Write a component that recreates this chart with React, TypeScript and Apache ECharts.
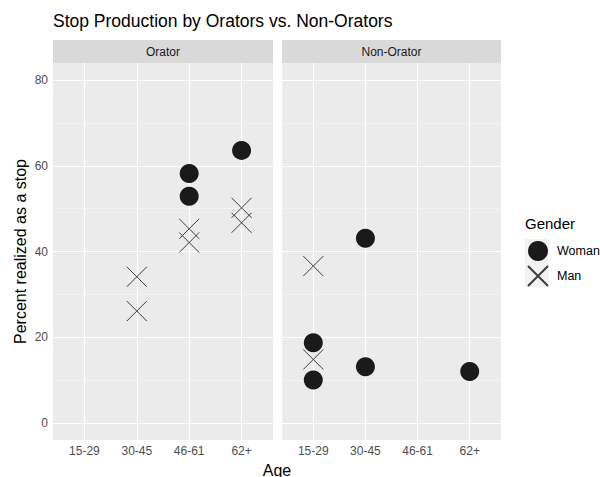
import React, { useEffect, useRef } from "react";
import * as echarts from "echarts";

const ages = ["15-29", "30-45", "46-61", "62+"];
const panels = ["Orator", "Non-Orator"];
const genders = ["Woman", "Man"];
const yTicks = [0, 20, 40, 60, 80];
const yMinor = [10, 30, 50, 70];

// [age, percent]
const oratorWoman: [string, number][] = [["46-61", 58.2], ["46-61", 52.9], ["62+", 63.6]];
const oratorMan: [string, number][] = [["30-45", 34.1], ["30-45", 26.1], ["46-61", 45.3], ["46-61", 42.1], ["62+", 50.2], ["62+", 46.7]];
const nonOratorWoman: [string, number][] = [["30-45", 43.1], ["15-29", 18.7], ["15-29", 10.0], ["30-45", 13.1], ["62+", 12.0]];
const nonOratorMan: [string, number][] = [["15-29", 36.6], ["15-29", 14.8]];

const FONT = "Liberation Sans, Arial, Helvetica, sans-serif";
const CROSS = "path://M0,0L10,10M10,0L0,10";

export default function App() {
  const ref = useRef<HTMLDivElement>(null);
  useEffect(() => {
    if (!ref.current) return;
    const chart = echarts.init(ref.current, null, { renderer: "svg" });
    const toPts = (arr: [string, number][]) => arr.map(([a, v]) => [ages.indexOf(a), v]);
    const gridDefs = [
      { left: 53, top: 63, width: 220, height: 377 },
      { left: 282, top: 63, width: 219, height: 377 },
    ];
    const gridLines = {
      silent: true,
      symbol: "none",
      z: 1,
      label: { show: false },
      emphasis: { disabled: true },
      data: [
        ...yMinor.map((v) => ({ yAxis: v, lineStyle: { color: "#f7f7f7", width: 0.6, type: "solid" } })),
        ...yTicks.map((v) => ({ yAxis: v, lineStyle: { color: "#ffffff", width: 1.2, type: "solid" } })),
        ...ages.map((_, i) => ({ xAxis: i, lineStyle: { color: "#ffffff", width: 1.2, type: "solid" } })),
      ],
    };
    const womanStyle = { color: "#1a1a1a", opacity: 1 };
    const manStyle = { color: "transparent", borderColor: "#3d3d3d", borderWidth: 1, opacity: 1 };
    const mkSeries = (name: string, idx: number, data: [string, number][], withLines: boolean) => ({
      name,
      type: "scatter",
      xAxisIndex: idx,
      yAxisIndex: idx,
      z: 3,
      symbol: name === "Woman" ? "circle" : CROSS,
      symbolSize: name === "Woman" ? 19 : 20,
      itemStyle: name === "Woman" ? womanStyle : manStyle,
      data: toPts(data),
      markLine: withLines ? gridLines : undefined,
    });
    const xAxisDef = (idx: number) => ({
      type: "value",
      gridIndex: idx,
      min: -0.6,
      max: 3.6,
      axisLine: { show: false },
      axisTick: { show: true, customValues: [0, 1, 2, 3], length: 3, lineStyle: { color: "#333333", width: 1 } },
      axisLabel: {
        customValues: [0, 1, 2, 3],
        formatter: (v: number) => ages[Math.round(v)] ?? "",
        color: "#4d4d4d",
        fontSize: 12,
        fontFamily: FONT,
        margin: 5,
      },
      splitLine: { show: false },
    });
    const yAxisDef = (idx: number) => ({
      type: "value",
      gridIndex: idx,
      min: -4,
      max: 84,
      axisLine: { show: false },
      axisTick: { show: idx === 0, customValues: yTicks, length: 3, lineStyle: { color: "#333333", width: 1 } },
      axisLabel: {
        show: idx === 0,
        customValues: yTicks,
        color: "#4d4d4d",
        fontSize: 12,
        fontFamily: FONT,
        margin: 5,
      },
      splitLine: { show: false },
      name: idx === 0 ? "Percent realized as a stop" : "",
      nameLocation: "middle",
      nameGap: 25,
      nameTextStyle: { color: "#000000", fontSize: 16, fontFamily: FONT },
    });
    const stripGraphics = panels.flatMap((p, i) => {
      const g = gridDefs[i];
      return [
        { type: "rect", left: g.left, top: 40, shape: { width: g.width, height: 23 }, style: { fill: "#d9d9d9" }, z: -1 },
        {
          type: "text",
          x: g.left + g.width / 2,
          y: 52,
          style: { text: p, fill: "#1a1a1a", fontSize: 12, fontFamily: FONT, align: "center", verticalAlign: "middle" },
        },
      ];
    });
    chart.setOption({
      animation: false,
      backgroundColor: "#ffffff",
      title: {
        text: "Stop Production by Orators vs. Non-Orators",
        left: 48,
        top: 7,
        textStyle: { color: "#000000", fontSize: 17.5, fontWeight: "normal", fontFamily: FONT },
      },
      grid: gridDefs.map((g) => ({
        ...g,
        show: true,
        backgroundColor: "#ebebeb",
        borderWidth: 0,
        containLabel: false,
      })),
      xAxis: [xAxisDef(0), xAxisDef(1)],
      yAxis: [yAxisDef(0), yAxisDef(1)],
      legend: {
        data: genders,
        orient: "vertical",
        left: 527,
        top: 241,
        padding: 0,
        itemWidth: 20,
        itemHeight: 20,
        itemGap: 4,
        selectedMode: false,
        textStyle: { color: "#000000", fontSize: 12.5, fontFamily: FONT, padding: [0, 0, 0, 4], overflow: "none" },
      },
      graphic: [
        ...stripGraphics,
        { type: "rect", left: 525, top: 239, shape: { width: 24, height: 24 }, style: { fill: "#f2f2f2" }, z: -1 },
        { type: "rect", left: 525, top: 263, shape: { width: 24, height: 24 }, style: { fill: "#f2f2f2" }, z: -1 },
        {
          type: "text",
          x: 525,
          y: 223,
          style: { text: "Gender", fill: "#000000", fontSize: 15, fontFamily: FONT, verticalAlign: "middle" },
        },
        {
          type: "text",
          x: 277,
          y: 470,
          style: { text: "Age", fill: "#000000", fontSize: 16, fontFamily: FONT, align: "center", verticalAlign: "middle" },
        },
      ],
      series: [
        mkSeries("Woman", 0, oratorWoman, true),
        mkSeries("Man", 0, oratorMan, false),
        mkSeries("Woman", 1, nonOratorWoman, true),
        mkSeries("Man", 1, nonOratorMan, false),
      ],
    });
    return () => chart.dispose();
  }, []);
  return <div ref={ref} style={{ width: 600, height: 477, position: "absolute", left: 0, top: 0 }} />;
}
